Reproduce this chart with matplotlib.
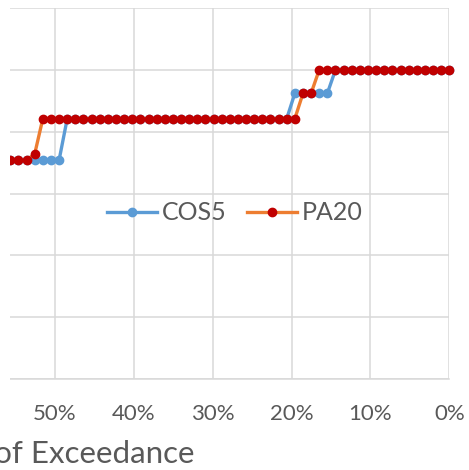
import numpy as np
import matplotlib
matplotlib.use("Agg")
import matplotlib.pyplot as plt
from matplotlib.patches import Rectangle
from matplotlib.ticker import PercentFormatter

# exceedance points, spaced 1/97 apart starting at 0%
n_points = 57
step = 1 / 97

# levels (gridline spacing = 1 unit, axis at 0)
top, upper, mid, bump, low = 5.0, 4.62, 4.21, 3.64, 3.54

cos5 = [top] * 15 + [upper] * 5 + [mid] * 28 + [low] * 9
pa20 = [top] * 17 + [upper] * 2 + [mid] * 32 + [bump] + [low] * 5

x_ticks = [0.0, 0.1, 0.2, 0.3, 0.4, 0.5]

blue = "#5B9BD5"
orange = "#ED7D31"
red = "#C00000"
grey_text = "#595959"
grid_col = "#D9D9D9"

plt.rcParams["font.family"] = ["Lato", "DejaVu Sans"]

fig = plt.figure(figsize=(4.69, 4.70), dpi=100)
ax = fig.add_axes([10 / 469, 1 - 379 / 470, (449.3 - 10) / 469, (379 - 8) / 470])

x = np.arange(n_points) * step

ax.plot(x, cos5, color=blue, linewidth=2.4, marker="o", markersize=6,
        markerfacecolor=blue, markeredgecolor=blue, label="COS5", zorder=3,
        clip_on=False)
ax.plot(x, pa20, color=orange, linewidth=2.4, marker="o", markersize=6,
        markerfacecolor=red, markeredgecolor=red, label="PA20", zorder=4,
        clip_on=False)

ax.set_xlim(0.5571, 0)
ax.set_ylim(0, 6)
ax.set_xticks(x_ticks)
ax.xaxis.set_major_formatter(PercentFormatter(1.0, decimals=0))
ax.set_yticks(range(0, 7))
ax.set_yticklabels([])

ax.grid(True, color=grid_col, linewidth=1.1)
ax.set_axisbelow(True)
for side in ["top", "right", "left"]:
    ax.spines[side].set_visible(False)
ax.spines["bottom"].set_color(grid_col)
ax.spines["bottom"].set_linewidth(1.1)
ax.tick_params(axis="both", length=0, labelsize=16, labelcolor=grey_text)
ax.tick_params(axis="x", pad=18)

ax.legend(loc="center", bbox_to_anchor=(0.512, 0.448), ncol=2, frameon=False,
          fontsize=18, labelcolor=grey_text, handlelength=2.0,
          handletextpad=0.2, columnspacing=0.8)

# the picture is cut off just left of the plot area
fig.patches.append(Rectangle((0, 1 - 385 / 470), 10 / 469, 385 / 470,
                             transform=fig.transFigure, facecolor="white",
                             edgecolor="none", zorder=10))

fig.text(194 / 469, 1 - 463 / 470, "Probability of Exceedance", ha="right",
         va="baseline", fontsize=22.5, color=grey_text)

fig.savefig("out.png", dpi=100)
